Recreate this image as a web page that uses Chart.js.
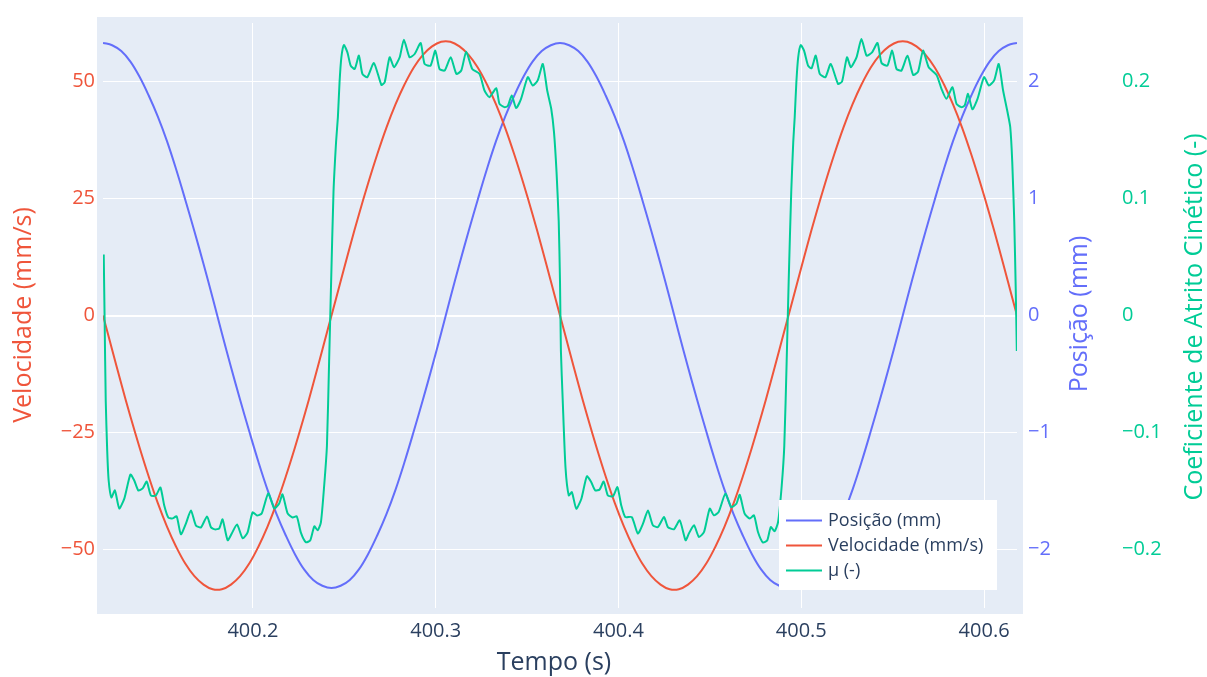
<!DOCTYPE html>
<html lang="pt">
<head>
<meta charset="utf-8">
<title>Posição, velocidade e coeficiente de atrito</title>
<script src="https://cdn.jsdelivr.net/npm/chart.js@4.4.1/dist/chart.umd.min.js"></script>
<style>
  html, body { margin: 0; padding: 0; background: #ffffff; }
  #wrap { width: 1207px; height: 677px; }
</style>
</head>
<body>
<div id="wrap"><canvas id="grafico" width="1207" height="677"></canvas></div>
<script>
// Instantes de amostragem (s) das curvas de posição e velocidade
const tempo = [
  400.118, 400.123, 400.128, 400.133, 400.138, 400.143, 400.148, 400.153, 400.158, 400.163,
  400.168, 400.173, 400.178, 400.183, 400.188, 400.193, 400.198, 400.203, 400.208, 400.213,
  400.218, 400.223, 400.228, 400.233, 400.238, 400.243, 400.248, 400.253, 400.258, 400.263,
  400.268, 400.273, 400.278, 400.283, 400.288, 400.293, 400.298, 400.303, 400.308, 400.313,
  400.318, 400.323, 400.328, 400.333, 400.338, 400.343, 400.348, 400.353, 400.358, 400.363,
  400.368, 400.373, 400.378, 400.383, 400.388, 400.393, 400.398, 400.403, 400.408, 400.413,
  400.418, 400.423, 400.428, 400.433, 400.438, 400.443, 400.448, 400.453, 400.458, 400.463,
  400.468, 400.473, 400.478, 400.483, 400.488, 400.493, 400.498, 400.503, 400.508, 400.513,
  400.518, 400.523, 400.528, 400.533, 400.538, 400.543, 400.548, 400.553, 400.558, 400.563,
  400.568, 400.573, 400.578, 400.583, 400.588, 400.593, 400.598, 400.603, 400.608, 400.613,
  400.618
];

// Posição (mm)
const posicao = [
  2.33, 2.31, 2.26, 2.17, 2.04, 1.88, 1.70, 1.49, 1.25, 0.99,
  0.72, 0.44, 0.15, -0.15, -0.44, -0.72, -0.99, -1.25, -1.49, -1.70,
  -1.88, -2.04, -2.17, -2.26, -2.31, -2.33, -2.31, -2.26, -2.17, -2.04,
  -1.88, -1.70, -1.49, -1.25, -0.99, -0.72, -0.44, -0.15, 0.15, 0.44,
  0.72, 0.99, 1.25, 1.49, 1.70, 1.88, 2.04, 2.17, 2.26, 2.31,
  2.33, 2.31, 2.26, 2.17, 2.04, 1.88, 1.70, 1.49, 1.25, 0.99,
  0.72, 0.44, 0.15, -0.15, -0.44, -0.72, -0.99, -1.25, -1.49, -1.70,
  -1.88, -2.04, -2.17, -2.26, -2.31, -2.33, -2.31, -2.26, -2.17, -2.04,
  -1.88, -1.70, -1.49, -1.25, -0.99, -0.72, -0.44, -0.15, 0.15, 0.44,
  0.72, 0.99, 1.25, 1.49, 1.70, 1.88, 2.04, 2.17, 2.26, 2.31,
  2.33
];

// Velocidade (mm/s)
const velocidade = [
  0.0, -7.3, -14.6, -21.6, -28.2, -34.4, -40.1, -45.1, -49.4, -53.0,
  -55.7, -57.5, -58.5, -58.5, -57.5, -55.7, -53.0, -49.4, -45.1, -40.1,
  -34.4, -28.2, -21.6, -14.6, -7.3, 0.0, 7.3, 14.6, 21.6, 28.2,
  34.4, 40.1, 45.1, 49.4, 53.0, 55.7, 57.5, 58.5, 58.5, 57.5,
  55.7, 53.0, 49.4, 45.1, 40.1, 34.4, 28.2, 21.6, 14.6, 7.3,
  0.0, -7.3, -14.6, -21.6, -28.2, -34.4, -40.1, -45.1, -49.4, -53.0,
  -55.7, -57.5, -58.5, -58.5, -57.5, -55.7, -53.0, -49.4, -45.1, -40.1,
  -34.4, -28.2, -21.6, -14.6, -7.3, 0.0, 7.3, 14.6, 21.6, 28.2,
  34.4, 40.1, 45.1, 49.4, 53.0, 55.7, 57.5, 58.5, 58.5, 57.5,
  55.7, 53.0, 49.4, 45.1, 40.1, 34.4, 28.2, 21.6, 14.6, 7.3,
  0.0
];

// Coeficiente de atrito cinético: pares [tempo (s), μ]
const atrito = [
  [400.1184, 0.0522], [400.1189, -0.0049], [400.1195, -0.0730], [400.1203, -0.1155],
  [400.1211, -0.1410], [400.1226, -0.1555], [400.1245, -0.1495], [400.1269, -0.1649],
  [400.1297, -0.1563], [400.1330, -0.1359], [400.1351, -0.1410], [400.1373, -0.1495],
  [400.1397, -0.1478], [400.1419, -0.1419], [400.1442, -0.1538], [400.1469, -0.1538],
  [400.1494, -0.1470], [400.1515, -0.1624], [400.1537, -0.1726], [400.1561, -0.1734],
  [400.1583, -0.1717], [400.1606, -0.1870], [400.1634, -0.1776], [400.1661, -0.1666],
  [400.1688, -0.1794], [400.1716, -0.1811], [400.1749, -0.1717], [400.1771, -0.1811],
  [400.1792, -0.1828], [400.1816, -0.1819], [400.1834, -0.1742], [400.1862, -0.1921],
  [400.1885, -0.1861], [400.1913, -0.1785], [400.1944, -0.1904], [400.1971, -0.1853],
  [400.1998, -0.1683], [400.2022, -0.1709], [400.2048, -0.1692], [400.2084, -0.1521],
  [400.2117, -0.1649], [400.2144, -0.1606], [400.2162, -0.1529], [400.2190, -0.1692],
  [400.2217, -0.1726], [400.2240, -0.1717], [400.2262, -0.1853], [400.2290, -0.1938],
  [400.2314, -0.1921], [400.2336, -0.1802], [400.2354, -0.1836], [400.2372, -0.1768],
  [400.2390, -0.1453], [400.2405, -0.1113], [400.2417, -0.0390], [400.2428, 0.0292],
  [400.2441, 0.1058], [400.2455, 0.1483], [400.2465, 0.1696], [400.2474, 0.1994],
  [400.2484, 0.2207], [400.2498, 0.2311], [400.2517, 0.2249], [400.2535, 0.2136],
  [400.2557, 0.2107], [400.2580, 0.2221], [400.2599, 0.2065], [400.2626, 0.2037],
  [400.2662, 0.2158], [400.2703, 0.1971], [400.2721, 0.1994], [400.2748, 0.2207],
  [400.2772, 0.2122], [400.2803, 0.2207], [400.2826, 0.2357], [400.2857, 0.2207],
  [400.2885, 0.2235], [400.2918, 0.2329], [400.2939, 0.2150], [400.2972, 0.2136],
  [400.2998, 0.2264], [400.3021, 0.2107], [400.3049, 0.2094], [400.3082, 0.2207],
  [400.3113, 0.2065], [400.3140, 0.2094], [400.3167, 0.2255], [400.3200, 0.2107],
  [400.3240, 0.2065], [400.3267, 0.1923], [400.3294, 0.1866], [400.3331, 0.1943],
  [400.3349, 0.1809], [400.3376, 0.1781], [400.3394, 0.1790], [400.3416, 0.1881],
  [400.3440, 0.1773], [400.3467, 0.1852], [400.3504, 0.2037], [400.3531, 0.1966],
  [400.3558, 0.2009], [400.3586, 0.2150], [400.3610, 0.1923], [400.3632, 0.1767],
  [400.3647, 0.1569], [400.3661, 0.1228], [400.3673, 0.0803], [400.3680, 0.0292],
  [400.3685, -0.0304], [400.3695, -0.0729], [400.3710, -0.1297], [400.3728, -0.1538],
  [400.3745, -0.1510], [400.3769, -0.1651], [400.3797, -0.1566], [400.3827, -0.1374],
  [400.3851, -0.1425], [400.3873, -0.1495], [400.3897, -0.1487], [400.3919, -0.1419],
  [400.3942, -0.1538], [400.3970, -0.1544], [400.3994, -0.1467], [400.4015, -0.1623],
  [400.4037, -0.1723], [400.4073, -0.1723], [400.4106, -0.1864], [400.4134, -0.1779],
  [400.4161, -0.1666], [400.4188, -0.1793], [400.4216, -0.1808], [400.4249, -0.1723],
  [400.4270, -0.1808], [400.4303, -0.1827], [400.4335, -0.1751], [400.4367, -0.1921],
  [400.4385, -0.1864], [400.4413, -0.1793], [400.4440, -0.1893], [400.4468, -0.1850],
  [400.4499, -0.1651], [400.4522, -0.1708], [400.4548, -0.1680], [400.4585, -0.1523],
  [400.4617, -0.1637], [400.4645, -0.1609], [400.4663, -0.1532], [400.4690, -0.1694],
  [400.4718, -0.1736], [400.4741, -0.1708], [400.4763, -0.1850], [400.4790, -0.1940],
  [400.4814, -0.1921], [400.4833, -0.1808], [400.4854, -0.1844], [400.4873, -0.1765],
  [400.4893, -0.1453], [400.4907, -0.1112], [400.4920, -0.0389], [400.4931, 0.0292],
  [400.4945, 0.1058], [400.4956, 0.1483], [400.4964, 0.1696], [400.4973, 0.1994],
  [400.4983, 0.2207], [400.4997, 0.2311], [400.5015, 0.2264], [400.5037, 0.2136],
  [400.5056, 0.2113], [400.5079, 0.2221], [400.5101, 0.2065], [400.5132, 0.2037],
  [400.5161, 0.2150], [400.5201, 0.1980], [400.5223, 0.2000], [400.5250, 0.2207],
  [400.5271, 0.2122], [400.5302, 0.2207], [400.5329, 0.2363], [400.5357, 0.2221],
  [400.5387, 0.2249], [400.5417, 0.2329], [400.5439, 0.2158], [400.5471, 0.2136],
  [400.5497, 0.2264], [400.5521, 0.2107], [400.5548, 0.2094], [400.5581, 0.2221],
  [400.5612, 0.2056], [400.5639, 0.2085], [400.5666, 0.2264], [400.5697, 0.2122],
  [400.5740, 0.2056], [400.5767, 0.1937], [400.5794, 0.1852], [400.5827, 0.1951],
  [400.5849, 0.1809], [400.5876, 0.1781], [400.5894, 0.1796], [400.5912, 0.1894],
  [400.5936, 0.1762], [400.5964, 0.1852], [400.6000, 0.2037], [400.6026, 0.1966],
  [400.6055, 0.2009], [400.6080, 0.2150], [400.6104, 0.1923], [400.6128, 0.1739],
  [400.6143, 0.1611], [400.6154, 0.1313], [400.6165, 0.0803], [400.6173, 0.0232],
  [400.6179, -0.0304]
];

// Marcas dos eixos
const ticksTempo = [400.2, 400.3, 400.4, 400.5, 400.6];
const ticksVelocidade = [-50, -25, 0, 25, 50];
const ticksPosicao = [-2, -1, 0, 1, 2];
const ticksAtrito = [-0.2, -0.1, 0, 0.1, 0.2];

// Nomes das séries e títulos
const nomes = ['Posição (mm)', 'Velocidade (mm/s)', 'μ (-)'];
const tituloX = 'Tempo (s)';
const tituloVel = 'Velocidade (mm/s)';
const tituloPos = 'Posição (mm)';
const tituloAtrito = 'Coeficiente de Atrito Cinético (-)';

const AZUL = '#636EFA', VERMELHO = '#EF553B', VERDE = '#00CC96', TEXTO = '#2a3f5f';
const FONTE = "'Open Sans', 'Liberation Sans', sans-serif";
const TAM_TICK = 20, TAM_TITULO = 25, TAM_LEGENDA = 18;

const comMenos = v => (v < 0 ? '\u2212' : '') + String(Math.abs(v));
const fixarTicks = lista => s => { s.ticks = lista.map(v => ({ value: v })); };

// Fundo da área de plotagem, títulos dos eixos e legenda
const decoracao = {
  id: 'decoracao',
  beforeDraw(chart) {
    const { ctx, chartArea: a } = chart;
    ctx.save();
    ctx.fillStyle = '#E5ECF6';
    ctx.fillRect(a.left - 6, a.top - 6, a.right - a.left + 12, a.bottom - a.top + 12);
    ctx.restore();
  },
  afterDraw(chart) {
    const { ctx } = chart;
    ctx.save();
    ctx.textBaseline = 'middle';
    ctx.textAlign = 'center';
    ctx.font = TAM_TITULO + 'px ' + FONTE;

    ctx.fillStyle = TEXTO;
    ctx.fillText(tituloX, 554, 663);

    const vertical = (txt, x, y, cor) => {
      ctx.save();
      ctx.translate(x, y);
      ctx.rotate(-Math.PI / 2);
      ctx.fillStyle = cor;
      ctx.fillText(txt, 0, 0);
      ctx.restore();
    };
    vertical(tituloVel, 24, 315, VERMELHO);
    vertical(tituloPos, 1080, 314, AZUL);
    vertical(tituloAtrito, 1195, 317, VERDE);

    // legenda
    const lx = 779, ly = 500, lw = 218, lh = 90;
    ctx.fillStyle = '#ffffff';
    ctx.fillRect(lx, ly, lw, lh);
    ctx.font = TAM_LEGENDA + 'px ' + FONTE;
    ctx.textAlign = 'left';
    const ds = chart.data.datasets;
    [0, 1, 2].forEach((i, k) => {
      const y = ly + 20.5 + k * 25;
      ctx.strokeStyle = ds[i].borderColor;
      ctx.lineWidth = 2;
      ctx.beginPath();
      ctx.moveTo(786, y);
      ctx.lineTo(822, y);
      ctx.stroke();
      ctx.fillStyle = TEXTO;
      ctx.fillText(ds[i].label, 828, y);
    });
    ctx.restore();
  }
};

new Chart(document.getElementById('grafico'), {
  type: 'line',
  data: {
    datasets: [
      {
        label: nomes[0], yAxisID: 'yPos', order: 2,
        data: tempo.map((t, i) => ({ x: t, y: posicao[i] })),
        borderColor: AZUL, borderWidth: 2, pointRadius: 0, tension: 0.4, fill: false
      },
      {
        label: nomes[1], yAxisID: 'y', order: 1,
        data: tempo.map((t, i) => ({ x: t, y: velocidade[i] })),
        borderColor: VERMELHO, borderWidth: 2, pointRadius: 0, tension: 0.4, fill: false
      },
      {
        label: nomes[2], yAxisID: 'yMu', order: 0,
        data: atrito.map(p => ({ x: p[0], y: p[1] })),
        borderColor: VERDE, borderWidth: 2, pointRadius: 0, tension: 0.2, fill: false
      }
    ]
  },
  options: {
    responsive: false,
    devicePixelRatio: 1,
    animation: false,
    layout: { padding: { left: 0, right: 0, top: 20.5, bottom: 19 } },
    plugins: { legend: { display: false }, tooltip: { enabled: false } },
    scales: {
      x: {
        type: 'linear', position: 'bottom', min: 400.118, max: 400.618,
        afterBuildTicks: fixarTicks(ticksTempo),
        afterFit: s => { s.height = 50; },
        ticks: {
          color: TEXTO, font: { family: FONTE, size: TAM_TICK, lineHeight: 1.2 },
          padding: 11, autoSkip: false, maxRotation: 0,
          callback: v => Number(v).toFixed(1)
        },
        grid: { color: '#ffffff', lineWidth: 1, drawTicks: false },
        border: { display: false }
      },
      y: {
        type: 'linear', position: 'left', min: -62.5, max: 62.5,
        afterBuildTicks: fixarTicks(ticksVelocidade),
        afterFit: s => { s.width = 103; },
        ticks: { color: VERMELHO, font: { family: FONTE, size: TAM_TICK }, padding: 8, autoSkip: false, callback: comMenos },
        grid: {
          color: '#ffffff', drawTicks: false,
          lineWidth: c => (c.tick && c.tick.value === 0 ? 2 : 1)
        },
        border: { display: false }
      },
      yPos: {
        type: 'linear', position: 'right', weight: 1, min: -2.5, max: 2.5,
        afterBuildTicks: fixarTicks(ticksPosicao),
        afterFit: s => { s.width = 94; },
        ticks: { color: AZUL, font: { family: FONTE, size: TAM_TICK }, padding: 11, autoSkip: false, callback: comMenos },
        grid: { display: false, drawTicks: false },
        border: { display: false }
      },
      yMu: {
        type: 'linear', position: 'right', weight: 2, min: -0.25, max: 0.25,
        afterBuildTicks: fixarTicks(ticksAtrito),
        afterFit: s => { s.width = 96; },
        ticks: { color: VERDE, font: { family: FONTE, size: TAM_TICK }, padding: 11, autoSkip: false, callback: comMenos },
        grid: { display: false, drawTicks: false },
        border: { display: false }
      }
    }
  },
  plugins: [decoracao]
});
</script>
</body>
</html>
